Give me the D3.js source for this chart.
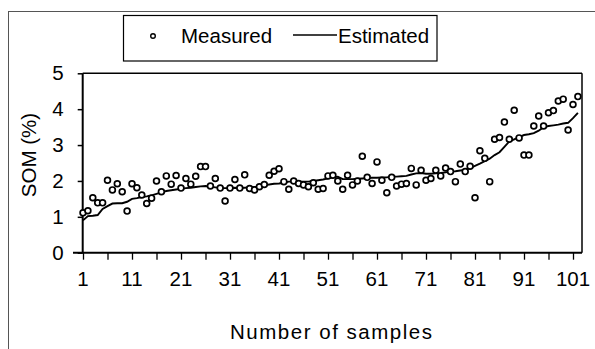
<!DOCTYPE html>
<html><head><meta charset="utf-8">
<script src="https://cdn.jsdelivr.net/npm/d3@7"></script>
<style>html,body{margin:0;padding:0;background:#fff;} svg{display:block;font-family:"Liberation Sans",Arial,sans-serif;}</style>
</head><body><svg id="c" width="595" height="349"></svg>
<script>
const measured = [
 1.11,1.17,1.53,1.39,1.39,2.02,1.75,1.92,1.70,1.16,
 1.92,1.81,1.61,1.37,1.52,2.00,1.70,2.14,1.91,2.15,
 1.80,2.07,1.91,2.13,2.40,2.40,1.86,2.07,1.80,1.44,
 1.80,2.04,1.80,2.17,1.79,1.75,1.84,1.90,2.16,2.27,
 2.34,1.98,1.77,2.00,1.93,1.89,1.84,1.95,1.77,1.79,
 2.14,2.16,2.00,1.77,2.16,1.89,2.00,2.69,2.10,1.93,
 2.53,2.02,1.67,2.10,1.86,1.91,1.93,2.35,1.89,2.30,
 2.02,2.07,2.30,2.14,2.36,2.26,1.98,2.47,2.26,2.41,
 1.53,2.84,2.63,1.98,3.16,3.21,3.64,3.16,3.97,3.20,
 2.72,2.72,3.53,3.81,3.53,3.90,3.96,4.23,4.28,3.42,
 4.13,4.35
];
const estimated = [
 0.90,1.02,1.03,1.05,1.22,1.30,1.37,1.38,1.38,1.42,
 1.50,1.52,1.55,1.57,1.60,1.64,1.68,1.72,1.74,1.76,
 1.78,1.80,1.81,1.83,1.85,1.86,1.84,1.82,1.80,1.80,
 1.80,1.81,1.80,1.81,1.82,1.83,1.84,1.88,1.90,1.92,
 1.93,1.95,1.98,1.98,1.98,1.98,1.98,2.00,2.02,2.04,
 2.07,2.10,2.12,2.05,2.05,2.05,2.06,2.07,2.08,2.09,
 2.09,2.10,2.10,2.12,2.12,2.13,2.14,2.18,2.21,2.22,
 2.20,2.20,2.21,2.22,2.24,2.26,2.27,2.29,2.31,2.36,
 2.42,2.48,2.55,2.62,2.72,2.80,2.95,3.10,3.16,3.22,
 3.28,3.30,3.33,3.40,3.50,3.53,3.55,3.57,3.60,3.62,
 3.75,3.90
];
const yTicks = [0,1,2,3,4,5];
const xTicks = [1,6,11,16,21,26,31,36,41,46,51,56,61,66,71,76,81,86,91,96,101];
const xTickLabels = [1,11,21,31,41,51,61,71,81,91,101];
const legendLabels = ["Measured","Estimated"];

(function(){
const svg = d3.select("#c");
const pL = 82.7, pR = 582, pT = 73.3, pB = 252.7;
const x = d3.scaleLinear().domain([1,101]).range([83,573]);
const y = d3.scaleLinear().domain([0,5]).range([pB, pT]);

// outer frame (scanned border)
svg.append("line").attr("x1",8.5).attr("y1",12).attr("x2",8.5).attr("y2",349).attr("stroke","#555").attr("stroke-width",1);
svg.append("line").attr("x1",8).attr("y1",11.5).attr("x2",595).attr("y2",11.5).attr("stroke","#555").attr("stroke-width",1);

// plot frame top/right
svg.append("line").attr("x1",pL).attr("y1",pT).attr("x2",pR).attr("y2",pT).attr("stroke","#000").attr("stroke-width",1.5);
svg.append("line").attr("x1",pR).attr("y1",pT).attr("x2",pR).attr("y2",pB).attr("stroke","#000").attr("stroke-width",1.5);

// y axis
const ya = svg.append("g").attr("transform",`translate(${pL},0)`)
  .call(d3.axisLeft(y).tickValues(yTicks).tickSize(5).tickPadding(14).tickFormat(d3.format("d")));
ya.select(".domain").remove();
ya.selectAll(".tick line").attr("stroke","#000").attr("stroke-width",1.5);
ya.selectAll(".tick text").attr("font-size",20.5).attr("font-family","Liberation Sans, Arial, sans-serif").attr("fill","#000");
svg.append("line").attr("x1",pL).attr("y1",pT).attr("x2",pL).attr("y2",pB).attr("stroke","#000").attr("stroke-width",2);

// x axis
const xa = svg.append("g").attr("transform",`translate(0,${pB})`)
  .call(d3.axisBottom(x).tickValues(xTicks).tickSize(7).tickFormat(""));
xa.select(".domain").remove();
xa.selectAll(".tick line").attr("stroke","#000").attr("stroke-width",1.3);
svg.append("line").attr("x1",73).attr("y1",pB).attr("x2",pR).attr("y2",pB).attr("stroke","#000").attr("stroke-width",2);
svg.append("g").selectAll("text").data(xTickLabels).join("text")
  .attr("x",d=>x(d)).attr("y",286).attr("text-anchor","middle")
  .attr("font-size",20.5).attr("fill","#000").text(d=>d);

// titles
svg.append("text").attr("transform","translate(36,155) rotate(-90)").attr("text-anchor","middle")
  .attr("font-size",20.5).attr("fill","#000").text("SOM (%)");
svg.append("text").attr("x",331).attr("y",339).attr("text-anchor","middle")
  .attr("font-size",20.5).attr("fill","#000").attr("textLength",202).attr("lengthAdjust","spacing")
  .text("Number of samples");

// estimated line
const line = d3.line().x((d,i)=>x(i+1)).y(d=>y(d));
svg.append("path").datum(estimated).attr("d",line).attr("fill","none").attr("stroke","#000").attr("stroke-width",1.9);

// measured points
svg.append("g").selectAll("circle").data(measured).join("circle")
  .attr("cx",(d,i)=>x(i+1)).attr("cy",d=>y(d)).attr("r",2.9)
  .attr("fill","#fff").attr("stroke","#000").attr("stroke-width",1.7);

// legend
const lg = svg.append("g");
lg.append("rect").attr("x",123.5).attr("y",15.5).attr("width",313.5).attr("height",45.5)
  .attr("fill","#fff").attr("stroke","#000").attr("stroke-width",1.2);
lg.append("circle").attr("cx",153).attr("cy",36).attr("r",2.3).attr("fill","#fff").attr("stroke","#000").attr("stroke-width",1.4);
lg.append("text").attr("x",181).attr("y",43).attr("font-size",20.5).attr("fill","#000").text(legendLabels[0]);
lg.append("line").attr("x1",293).attr("y1",35).attr("x2",337).attr("y2",35).attr("stroke","#000").attr("stroke-width",1.6);
lg.append("text").attr("x",338).attr("y",43).attr("font-size",20.5).attr("fill","#000").text(legendLabels[1]);
})();
</script></body></html>
